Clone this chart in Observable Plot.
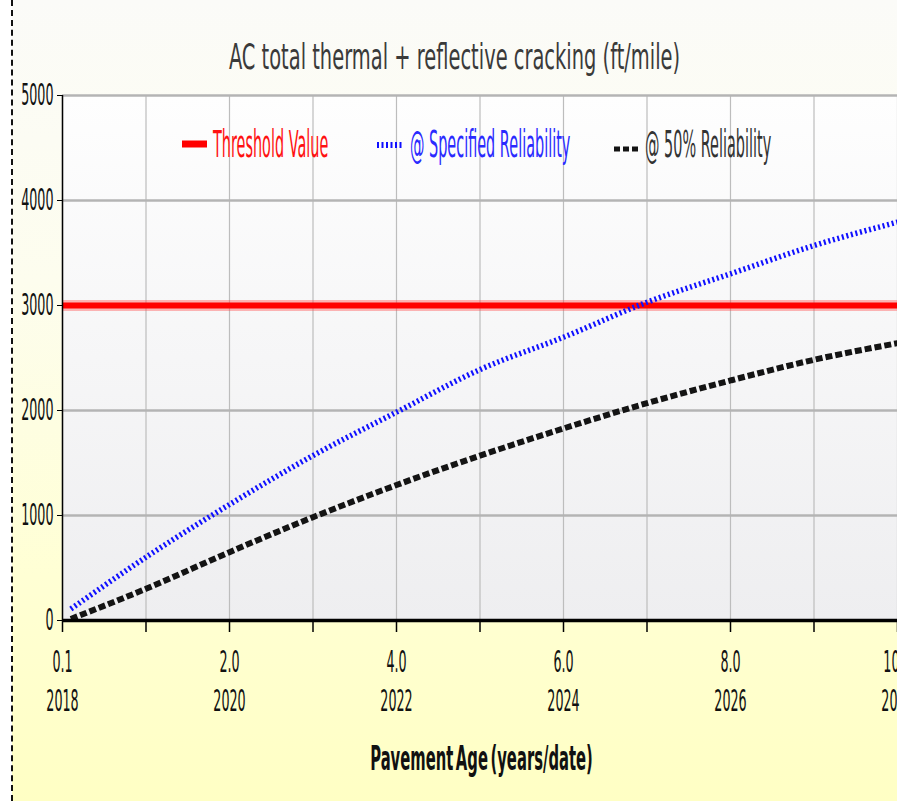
<!DOCTYPE html>
<html><head><meta charset="utf-8">
<script src="https://cdn.jsdelivr.net/npm/d3@7"></script>
<script src="https://cdn.jsdelivr.net/npm/@observablehq/plot@0.6"></script>
<style>
body{margin:0;background:#fff;}
#wrap{position:relative;width:909px;height:801px;overflow:hidden;background:#fff;font-family:"DejaVu Sans",sans-serif;}
#bg{position:absolute;left:12px;top:0;width:885px;height:801px;background:linear-gradient(#fbfbf8 0%,#fdfdee 35%,#ffffd4 72%,#ffffc4 100%);}
#dash{position:absolute;left:11px;top:0;height:801px;border-left:2px dashed #111;}
#clip{position:absolute;left:0;top:0;width:897px;height:801px;overflow:hidden;}
#clip svg{max-width:none !important;width:909px;height:801px;}
.sq{position:absolute;white-space:nowrap;line-height:1;}
#title{left:0;width:909px;top:39px;text-align:center;font-size:36px;color:#3a3a3a;transform:scaleX(0.54);transform-origin:50% 0;}
.lg{font-size:37px;top:126px;transform:scaleX(0.39);transform-origin:0 0;}
.sw{position:absolute;}
#xlabel{left:0;width:963px;top:741px;text-align:center;font-size:34px;font-weight:bold;color:#111;word-spacing:-6px;transform:scaleX(0.435);transform-origin:481.5px 0;}
</style></head><body>
<div id="wrap">
  <div id="bg"></div>
  <div id="dash"></div>
  <div id="clip"></div>
  <div class="sq" id="title">AC total thermal + reflective cracking (ft/mile)</div>
  <svg class="sw" style="left:180px;top:138px" width="30" height="12"><line x1="2" x2="27" y1="6" y2="6" stroke="#ff0000" stroke-width="7"/></svg>
  <div class="sq lg" style="left:213px;color:#ff1111">Threshold Value</div>
  <svg class="sw" style="left:375px;top:139px" width="30" height="12"><line x1="2" x2="28" y1="6" y2="6" stroke="#1010ff" stroke-width="6" stroke-dasharray="2,2.5"/></svg>
  <div class="sq lg" style="left:410px;color:#2a2aff">@ Specified Reliability</div>
  <svg class="sw" style="left:612px;top:143px" width="30" height="12"><line x1="2" x2="27" y1="6" y2="6" stroke="#141414" stroke-width="5" stroke-dasharray="6,3"/></svg>
  <div class="sq lg" style="left:645px;color:#333">@ 50% Reliability</div>
  <div class="sq" id="xlabel">Pavement Age (years/date)</div>
</div>
<script>
// ---- data ----
const years = [0.1, 1, 2, 3, 4, 5, 6, 7, 8, 9, 10];
const specified = [110, 603, 1105, 1571, 1984, 2390, 2698, 3031, 3302, 3571, 3794];
const fifty = [15, 302, 651, 984, 1290, 1570, 1829, 2070, 2286, 2483, 2641];
const threshold = 3000;
const tickYears = [0, 1, 2, 3, 4, 5, 6, 7, 8, 9, 10];
const ageLabels = ["0.1", "", "2.0", "", "4.0", "", "6.0", "", "8.0", "", "10.0"];
const dateLabels = ["2018", "", "2020", "", "2022", "", "2024", "", "2026", "", "2028"];
const yTicks = [0, 1000, 2000, 3000, 4000, 5000];

const specRows = years.map((t, i) => ({t, v: specified[i]}));
const fiftyRows = years.map((t, i) => ({t, v: fifty[i]}));

const chart = Plot.plot({
  width: 909, height: 801,
  marginLeft: 62, marginRight: 12, marginTop: 95, marginBottom: 181,
  style: {background: "transparent", fontFamily: "DejaVu Sans", overflow: "visible", color: "#111", maxWidth: "none"},
  x: {domain: [0, 10]},
  y: {domain: [0, 5000]},
  marks: [
    Plot.frame({fill: "url(#plotbg)", stroke: null}),
    Plot.gridX(tickYears, {stroke: "#bdbdbd", strokeOpacity: 1, strokeWidth: 1.2}),
    Plot.gridY(yTicks.slice(1), {stroke: "#b4b4b4", strokeOpacity: 1, strokeWidth: 2.5}),
    Plot.ruleY([threshold], {stroke: "#ff4a4a", strokeWidth: 11, strokeOpacity: 0.4}),
    Plot.ruleY([threshold], {stroke: "#ff0000", strokeWidth: 6}),
    Plot.line(specRows, {x: "t", y: "v", stroke: "#1010ff", strokeWidth: 5.5, strokeDasharray: "2,2.7",
      strokeLinecap: "butt", strokeLinejoin: "miter", curve: "monotone-x"}),
    Plot.line(fiftyRows, {x: "t", y: "v", stroke: "#141414", strokeWidth: 6, strokeDasharray: "7,3",
      strokeLinecap: "butt", strokeLinejoin: "miter", curve: "monotone-x"}),
    Plot.ruleX([0], {stroke: "#000", strokeWidth: 1.5}),
    Plot.ruleY([0], {stroke: "#000", strokeWidth: 3.5}),
    Plot.axisY(yTicks, {tickSize: 5, tickPadding: 4, fontSize: 31, label: null, tickFormat: d => String(d), stroke: "#000"}),
    Plot.axisX(tickYears, {tickSize: 12, tickPadding: 17, fontSize: 31, label: null, stroke: "#000", strokeWidth: 1.5,
      tickFormat: d => ageLabels[tickYears.indexOf(d)]}),
    Plot.axisX(tickYears, {tickSize: 0, tickPadding: 68, fontSize: 31, label: null,
      tickFormat: d => dateLabels[tickYears.indexOf(d)]})
  ]
});

d3.select(chart).insert("defs", ":first-child").html(
  '<linearGradient id="plotbg" x1="0" y1="0" x2="0" y2="1">' +
  '<stop offset="0" stop-color="#fefefe"/><stop offset="1" stop-color="#eeeef0"/></linearGradient>');

// condense axis text horizontally, like the reference
chart.querySelectorAll('g[aria-label$="tick label"] text').forEach(t => {
  const x = parseFloat(t.getAttribute("x") || 0) || 0;
  t.removeAttribute("x");
  const tr = t.getAttribute("transform") || "";
  t.setAttribute("transform", `${tr} translate(${x},0) scale(0.41,1)`);
});

document.getElementById("clip").appendChild(chart);
</script>
</body></html>
